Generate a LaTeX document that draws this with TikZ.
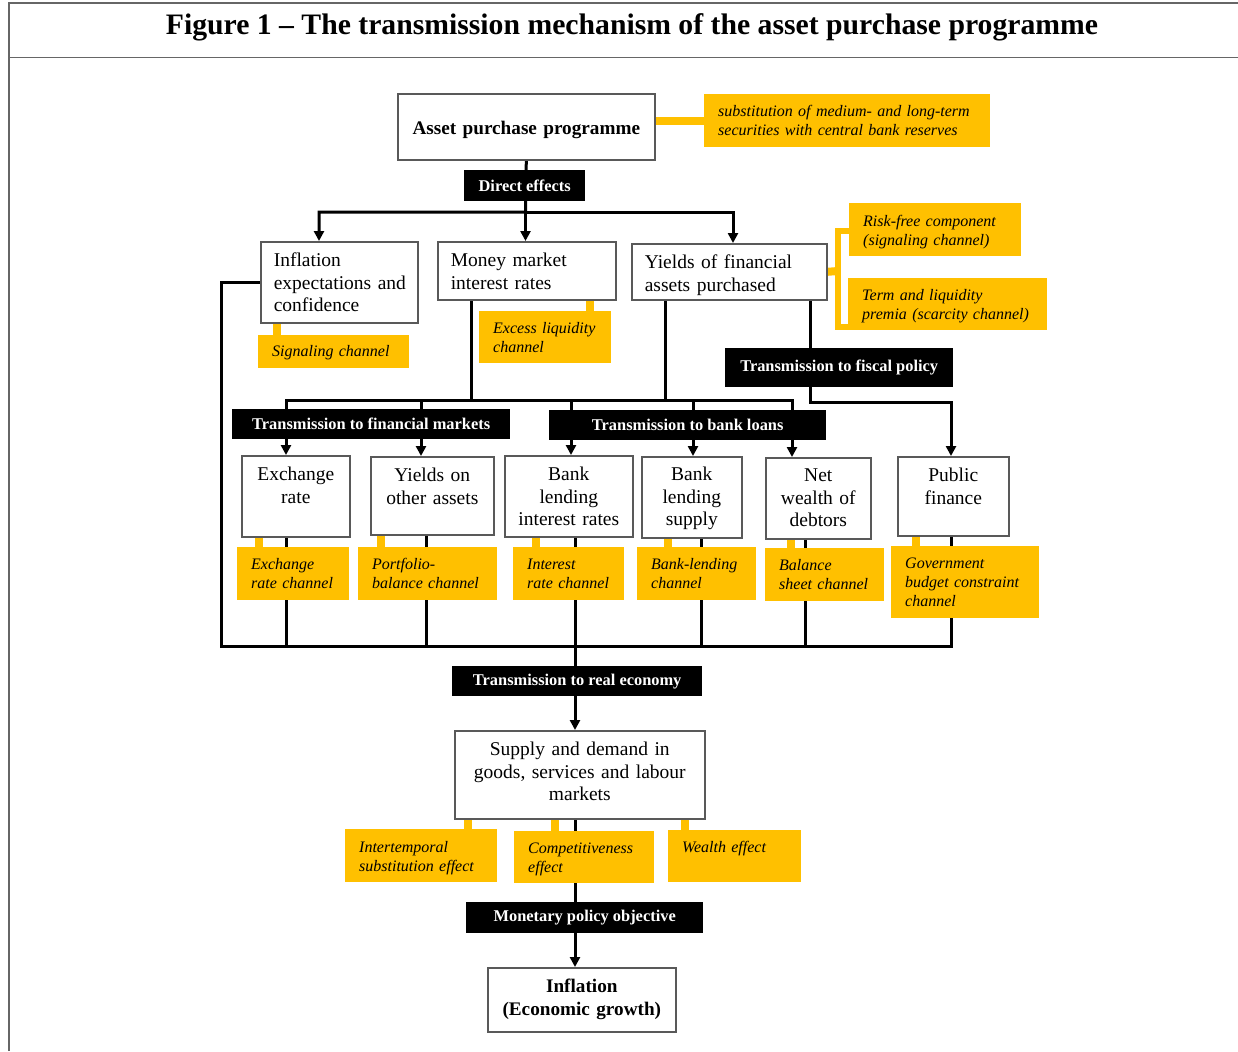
\documentclass[tikz,border=0pt]{standalone}
\usepackage{fontspec}
\setmainfont{Liberation Serif}
\usepackage{tikz}
\usetikzlibrary{positioning,arrows.meta}

\definecolor{ecbyellow}{RGB}{255,192,0}
\pgfdeclarelayer{background}
\pgfsetlayers{background,main}

\tikzset{
    every node/.style={execute at begin node={\hyphenpenalty=10000\exhyphenpenalty=10000}},
    box/.style={draw=black!65, line width=1.6pt, fill=white, anchor=north west,
        inner xsep=13pt, inner ysep=0pt, font=\fontsize{19.5}{22.5}\selectfont},
    cbox/.style={align=center, inner xsep=4pt},
    note/.style={fill=ecbyellow, anchor=north west, align=left, inner xsep=14pt,
        inner ysep=0pt, font=\itshape\fontsize{16}{19}\selectfont},
    stage/.style={fill=black, text=white, anchor=north west, inner sep=0pt,
        font=\bfseries\fontsize{16.4}{19}\selectfont},
    sz/.style 2 args={text height=#1pt, text depth=#2pt},
    wire/.style={line width=3pt, line cap=rect},
    wirearrow/.style={wire, -{Triangle[length=10pt,width=10pt]}},
    tab/.style={ecbyellow, line width=8pt},
}

\begin{document}
\begin{tikzpicture}[x=1pt, y=-1pt]
    \useasboundingbox (0,0) rectangle (1238,1051);

    % frame and title
    \path[draw, black!60, line width=1.5pt] (9,1051) -- (9,3) -- (1238,3);
    \path[draw, black!60, line width=1.5pt] (9,57.5) -- (1238,57.5);
    \node (title) [anchor=base, font=\bfseries\fontsize{29.7}{32}\selectfont] at (632,35)
        {Figure 1 – The transmission mechanism of the asset purchase programme};

    % programme and direct effects
    \node (app) [box, cbox, text width=249pt, sz={41}{25},
        font=\bfseries\fontsize{19.2}{22.5}\selectfont] at (397,93) {Asset purchase programme};
    \node (subst) [note, text width=258pt, sz={22}{31}] at (704,94)
        {substitution of medium- and long-term\\securities with central bank reserves};
    \node (direct) [stage, minimum width=121pt, minimum height=31pt] at (464,170) {Direct effects};

    \node (infl) [box, text width=131pt, align=left, sz={25}{56}] at (260,241)
        {Inflation\\expectations~and\\confidence};
    \node (money) [box, text width=152pt, align=left, sz={25}{33}] at (437,241)
        {Money market\\interest rates};
    \node (yieldsfa) [box, text width=169pt, align=left, sz={25}{31}] at (631,243)
        {Yields of financial\\assets purchased};
    \node (risk) [note, text width=144pt, sz={23}{30}] at (849,203)
        {Risk-free component\\(signaling~channel)};
    \node (term) [note, text width=171pt, sz={22}{30}] at (848,278)
        {Term and liquidity\\premia~(scarcity~channel)};
    \node (sig) [note, text width=123pt, sz={21}{12}] at (258,335) {Signaling~channel};
    \node (excess) [note, text width=104pt, sz={22}{30}] at (479,311) {Excess~liquidity\\channel};

    % transmission labels
    \node (fiscal) [stage, minimum width=228pt, minimum height=39pt] at (725,348) {Transmission to fiscal policy};
    \node (finm) [stage, minimum width=278pt, minimum height=30pt] at (232,409) {Transmission to financial markets};
    \node (bankl) [stage, minimum width=277pt, minimum height=30pt] at (549,410) {Transmission to bank loans};

    % channels
    \node (exr) [box, cbox, text width=100pt, sz={25}{56}] at (241,455) {Exchange\\rate};
    \node (yoa) [box, cbox, text width=115pt, sz={25}{53}] at (370,456) {Yields on\\other assets};
    \node (blir) [box, cbox, text width=120pt, sz={25}{56}] at (504,455) {Bank\\lending\\interest rates};
    \node (bls) [box, cbox, text width=92pt, sz={24}{57}] at (641,456) {Bank\\lending\\supply};
    \node (nwd) [box, cbox, text width=97pt, sz={24}{57}] at (765,457) {Net\\wealth of\\debtors};
    \node (pf) [box, cbox, text width=103pt, sz={25}{54}] at (897,456) {Public\\finance};

    \node (exch) [note, text width=84pt, sz={22}{31}] at (237,547) {Exchange\\rate~channel};
    \node (port) [note, text width=111pt, sz={22}{31}] at (358,547) {Portfolio-\\balance~channel};
    \node (intr) [note, text width=83pt, sz={22}{31}] at (513,547) {Interest\\rate~channel};
    \node (bl) [note, text width=91pt, sz={22}{31}] at (637,547) {Bank-lending\\channel};
    \node (bs) [note, text width=91pt, sz={22}{31}] at (765,548) {Balance\\sheet~channel};
    \node (gov) [note, text width=120pt, sz={22}{50}] at (891,546) {Government\\budget~constraint\\channel};

    % real economy
    \node (reale) [stage, minimum width=250pt, minimum height=30pt] at (452,666) {Transmission to real economy};
    \node (sd) [box, cbox, text width=242pt, sz={25}{63}] at (454,730)
        {Supply and demand in\\goods, services and labour\\markets};
    \node (intert) [note, text width=124pt, sz={23}{30}] at (345,829) {Intertemporal\\substitution~effect};
    \node (comp) [note, text width=112pt, sz={22}{30}] at (514,831) {Competitiveness\\effect};
    \node (wealth) [note, text width=105pt, sz={22}{30}] at (668,830) {Wealth~effect};
    \node (mpo) [stage, minimum width=237pt, minimum height=31pt] at (466,902) {Monetary policy objective};
    \node (infl2) [box, cbox, text width=180pt, sz={25}{39},
        font=\bfseries\fontsize{19.2}{22.5}\selectfont] at (487,967) {Inflation\\(Economic growth)};

    \begin{pgfonlayer}{background}
        % direct effects
        \coordinate (de) at (525.5,212);
        \coordinate (de1) at (319,212);
        \coordinate (de3) at (733,212);
        \path[draw, wirearrow] (app.south) -- (de) -| (de1 |- infl.north);
        \path[draw, wirearrow] (de) -| (de3 |- yieldsfa.north);
        \path[draw, wirearrow] (de) -- (de |- money.north);

        % expectations go straight down
        \coordinate (lb) at (221,646);
        \coordinate (rb) at (951,646);
        \path[draw, wire] (infl.west) -| (lb) -- (rb) -- (rb |- pf.south);

        % financial markets and bank loans
        \coordinate (mf) at (471,400);
        \coordinate (yf) at (665,400);
        \coordinate (f1) at (286,400);
        \coordinate (k3) at (792,400);
        \path[draw, wire] (money.south -| mf) -- (mf);
        \path[draw, wire] (yieldsfa.south -| yf) -- (yf);
        \path[draw, wire] (f1) -- (k3);
        \foreach \x/\dn in {286/exr, 421/yoa, 571/blir, 693/bls, 792/nwd}
            \path[draw, wirearrow] (f1 -| \x,0) -- (\dn.north -| \x,0);

        % fiscal policy
        \coordinate (fx) at (810,402);
        \coordinate (fy) at (951,402);
        \path[draw, wirearrow] (yieldsfa.south -| fx) -- (fx) -- (fy) -- (fy |- pf.north);

        % down to the real economy
        \foreach \x/\up in {286/exr, 426/yoa, 575/blir, 701/bls, 805/nwd}
            \path[draw, wire] (\up.south -| \x,0) -- (lb -| \x,0);
        \path[draw, wirearrow] (lb -| 575,0) -- (sd.north -| 575,0);
        \path[draw, wirearrow] (sd.south -| 575,0) -- (infl2.north -| 575,0);

        % yellow tabs
        \foreach \up/\dn/\x in {infl/sig/277, money/excess/590, exr/exch/259, yoa/port/381,
                blir/intr/536, bls/bl/668, nwd/bs/791, pf/gov/916,
                sd/intert/468, sd/comp/555, sd/wealth/685}
            \path[draw, tab] (\up.south -| \x,0) -- (\dn.north -| \x,0);
        \path[draw, tab] (app.east |- 0,121) -- (subst.west |- 0,121);
        \coordinate (brk) at (838,271);
        \path[draw, tab] (yieldsfa.east) -- (brk);
        \path[draw, tab, line width=6pt] (risk.west |- 0,231) -- (brk |- 0,231)
            -- (brk |- 0,327) -- (term.west |- 0,327);
    \end{pgfonlayer}

\end{tikzpicture}
\end{document}
